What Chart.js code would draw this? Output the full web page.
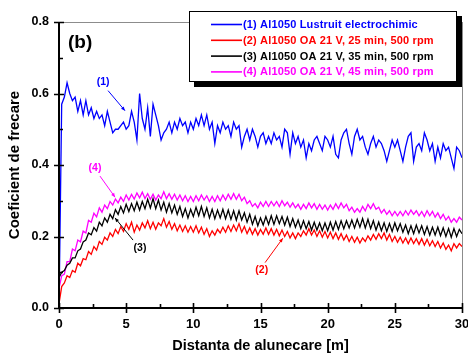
<!DOCTYPE html>
<html>
<head>
<meta charset="utf-8">
<script src="https://cdn.jsdelivr.net/npm/chart.js@4/dist/chart.umd.min.js"></script>
<style>
  html, body { margin: 0; padding: 0; background: #ffffff; }
  #wrap { width: 468px; height: 355px; }
</style>
</head>
<body>
<div id="wrap"><canvas id="c" width="468" height="355"></canvas></div>
<script>
// Sliding distance sampling interval [m]
const STEP = 0.2;

const seriesLabels = [
  '(1) Al1050 Lustruit electrochimic',
  '(2) Al1050 OA 21 V, 25 min, 500 rpm',
  '(3) Al1050 OA 21 V, 35 min, 500 rpm',
  '(4) Al1050 OA 21 V, 45 min, 500 rpm'
];
const seriesColors = ['#0000ff', '#ff0000', '#000000', '#ff00ff'];

const xTicks = [0, 5, 10, 15, 20, 25, 30];
const yTicks = [0.0, 0.2, 0.4, 0.6, 0.8];

// (1) electropolished Al1050 — one row per 2 m
const frictionPolished = [
  0.00,0.57,0.59,0.63,0.60,0.58,0.59,0.55,0.58,0.54,
  0.58,0.54,0.56,0.53,0.55,0.53,0.54,0.51,0.55,0.52,
  0.49,0.50,0.50,0.51,0.52,0.50,0.51,0.55,0.52,0.47,
  0.60,0.53,0.50,0.56,0.48,0.57,0.54,0.51,0.47,0.49,
  0.50,0.52,0.49,0.52,0.50,0.53,0.51,0.52,0.49,0.52,
  0.50,0.53,0.51,0.54,0.51,0.54,0.50,0.52,0.46,0.51,
  0.49,0.52,0.50,0.51,0.48,0.52,0.50,0.51,0.45,0.48,
  0.50,0.47,0.50,0.48,0.45,0.48,0.49,0.46,0.48,0.46,
  0.49,0.47,0.48,0.45,0.50,0.49,0.43,0.49,0.46,0.48,
  0.45,0.47,0.42,0.46,0.44,0.47,0.48,0.46,0.44,0.48,
  0.47,0.45,0.48,0.43,0.42,0.47,0.49,0.50,0.46,0.43,
  0.48,0.50,0.47,0.48,0.45,0.43,0.46,0.48,0.45,0.47,
  0.46,0.44,0.41,0.44,0.47,0.45,0.47,0.44,0.41,0.45,
  0.48,0.49,0.41,0.45,0.46,0.44,0.49,0.47,0.44,0.46,
  0.41,0.45,0.42,0.46,0.44,0.45,0.42,0.39,0.45,0.44,
  0.42
];

// (2) anodized 21 V, 25 min
const frictionOA25 = [
  0.012,0.060,0.070,0.090,0.085,0.105,0.100,0.125,0.118,0.138,
  0.135,0.158,0.150,0.172,0.162,0.186,0.178,0.198,0.190,0.210,
  0.200,0.220,0.208,0.228,0.214,0.236,0.220,0.240,0.212,0.232,
  0.218,0.238,0.224,0.244,0.222,0.240,0.220,0.238,0.230,0.250,
  0.226,0.242,0.220,0.236,0.216,0.232,0.214,0.230,0.212,0.228,
  0.212,0.230,0.210,0.226,0.206,0.222,0.200,0.216,0.204,0.220,
  0.210,0.226,0.212,0.230,0.214,0.232,0.216,0.236,0.212,0.228,
  0.208,0.224,0.206,0.222,0.204,0.220,0.206,0.224,0.206,0.222,
  0.204,0.220,0.202,0.218,0.200,0.214,0.196,0.210,0.194,0.210,
  0.200,0.216,0.204,0.222,0.204,0.218,0.200,0.216,0.198,0.214,
  0.196,0.212,0.194,0.210,0.192,0.208,0.190,0.204,0.186,0.200,
  0.184,0.198,0.182,0.196,0.186,0.202,0.190,0.206,0.192,0.208,
  0.194,0.210,0.190,0.206,0.186,0.200,0.184,0.198,0.182,0.196,
  0.180,0.196,0.180,0.194,0.178,0.194,0.176,0.192,0.174,0.188,
  0.172,0.186,0.168,0.182,0.164,0.176,0.160,0.180,0.168,0.180,
  0.172
];

// (3) anodized 21 V, 35 min
const frictionOA35 = [
  0.085,0.100,0.105,0.120,0.125,0.140,0.140,0.160,0.165,0.185,
  0.190,0.210,0.205,0.225,0.215,0.240,0.230,0.252,0.240,0.262,
  0.250,0.275,0.262,0.284,0.266,0.290,0.270,0.292,0.272,0.296,
  0.274,0.298,0.278,0.304,0.280,0.306,0.278,0.302,0.274,0.296,
  0.268,0.292,0.266,0.288,0.262,0.284,0.256,0.278,0.252,0.276,
  0.256,0.282,0.258,0.284,0.256,0.280,0.252,0.276,0.250,0.274,
  0.252,0.276,0.250,0.274,0.248,0.272,0.246,0.272,0.246,0.266,
  0.240,0.262,0.234,0.256,0.230,0.252,0.232,0.256,0.234,0.258,
  0.234,0.258,0.236,0.256,0.232,0.254,0.228,0.250,0.226,0.246,
  0.222,0.244,0.222,0.242,0.218,0.240,0.218,0.238,0.216,0.238,
  0.216,0.240,0.218,0.242,0.220,0.244,0.222,0.244,0.224,0.246,
  0.224,0.248,0.226,0.250,0.224,0.248,0.222,0.244,0.218,0.240,
  0.216,0.238,0.214,0.236,0.214,0.238,0.216,0.236,0.212,0.232,
  0.208,0.230,0.208,0.232,0.210,0.230,0.206,0.228,0.204,0.226,
  0.204,0.226,0.202,0.224,0.200,0.222,0.198,0.222,0.200,0.220,
  0.208
];

// (4) anodized 21 V, 45 min
const frictionOA45 = [
  0.055,0.090,0.095,0.130,0.130,0.165,0.160,0.190,0.185,0.215,
  0.210,0.245,0.240,0.265,0.255,0.280,0.268,0.288,0.278,0.298,
  0.288,0.305,0.294,0.310,0.298,0.316,0.302,0.318,0.305,0.322,
  0.308,0.324,0.306,0.320,0.304,0.318,0.302,0.316,0.306,0.325,
  0.306,0.320,0.304,0.318,0.302,0.316,0.300,0.314,0.298,0.312,
  0.298,0.314,0.300,0.316,0.302,0.314,0.298,0.312,0.298,0.314,
  0.300,0.316,0.302,0.318,0.304,0.320,0.304,0.318,0.300,0.310,
  0.292,0.300,0.284,0.292,0.280,0.296,0.284,0.298,0.284,0.298,
  0.286,0.298,0.284,0.300,0.286,0.296,0.282,0.294,0.280,0.290,
  0.276,0.290,0.278,0.294,0.280,0.292,0.276,0.290,0.276,0.288,
  0.274,0.288,0.276,0.292,0.278,0.294,0.280,0.290,0.272,0.282,
  0.268,0.278,0.268,0.284,0.272,0.290,0.278,0.292,0.276,0.282,
  0.266,0.276,0.262,0.272,0.258,0.270,0.258,0.270,0.258,0.272,
  0.260,0.274,0.262,0.272,0.258,0.270,0.256,0.272,0.258,0.270,
  0.254,0.266,0.250,0.262,0.246,0.256,0.240,0.250,0.240,0.254,
  0.246
];

// Callout labels with leader lines, in data units: [text, color, labelX, labelY, fromX, fromY, toX, toY]
const callouts = [
  ['(1)', '#0000ff', 3.28, 0.633, 3.65, 0.608, 4.91, 0.552],
  ['(4)', '#ff00ff', 2.68, 0.392, 3.05, 0.369, 4.17, 0.310],
  ['(3)', '#000000', 6.03, 0.168, 5.51, 0.190, 4.17, 0.252],
  ['(2)', '#ff0000', 15.09, 0.106, 15.34, 0.127, 16.66, 0.195]
];
const panelTag = ['(b)', 0.67, 0.741];

const FONT = 'Arial, "Liberation Sans", Helvetica, sans-serif';

function toPoints(values) {
  return values.map((v, i) => ({ x: Math.round(i * STEP * 10) / 10, y: v }));
}

const seriesValues = [frictionPolished, frictionOA25, frictionOA35, frictionOA45];

// Frame, crossing major ticks, inner minor ticks, callouts and boxed legend
const axesFrame = {
  id: 'axesFrame',
  afterDatasetsDraw(chart) {
    const { ctx, chartArea: a, scales: { x, y } } = chart;
    ctx.save();
    ctx.strokeStyle = '#8c8c8c';
    ctx.lineWidth = 1;
    ctx.beginPath();
    ctx.moveTo(a.left, a.top + 0.5); ctx.lineTo(a.right, a.top + 0.5);
    ctx.moveTo(a.right + 0.5, a.top); ctx.lineTo(a.right + 0.5, a.bottom);
    ctx.stroke();

    ctx.strokeStyle = '#000';
    ctx.lineWidth = 2;
    ctx.beginPath();
    ctx.moveTo(a.left, a.top); ctx.lineTo(a.left, a.bottom + 1);
    ctx.moveTo(a.left - 1, a.bottom); ctx.lineTo(a.right + 1, a.bottom);
    ctx.stroke();

    ctx.lineWidth = 1.6;
    ctx.beginPath();
    yTicks.forEach(v => {
      const p = Math.round(y.getPixelForValue(v)) + 0.5;
      ctx.moveTo(a.left - 5, p); ctx.lineTo(a.left + 5, p);
    });
    for (let i = 0; i < yTicks.length - 1; i++) {
      const p = Math.round(y.getPixelForValue((yTicks[i] + yTicks[i + 1]) / 2)) + 0.5;
      ctx.moveTo(a.left, p); ctx.lineTo(a.left + 4, p);
    }
    xTicks.forEach(v => {
      const p = Math.round(x.getPixelForValue(v)) + 0.5;
      ctx.moveTo(p, a.bottom + 5); ctx.lineTo(p, a.bottom - 5);
    });
    for (let i = 0; i < xTicks.length - 1; i++) {
      const p = Math.round(x.getPixelForValue((xTicks[i] + xTicks[i + 1]) / 2)) + 0.5;
      ctx.moveTo(p, a.bottom); ctx.lineTo(p, a.bottom - 4);
    }
    ctx.stroke();
    ctx.restore();
  },
  afterDraw(chart) {
    const { ctx, scales: { x, y } } = chart;
    ctx.save();

    // panel tag
    ctx.fillStyle = '#000';
    ctx.font = 'bold 19px ' + FONT;
    ctx.textBaseline = 'middle';
    ctx.textAlign = 'left';
    ctx.fillText(panelTag[0], x.getPixelForValue(panelTag[1]), y.getPixelForValue(panelTag[2]));

    // callouts
    ctx.font = 'bold 10.5px ' + FONT;
    ctx.textAlign = 'center';
    callouts.forEach(([t, c, lx, ly, fx, fy, tx, ty]) => {
      ctx.fillStyle = c;
      ctx.strokeStyle = c;
      ctx.lineWidth = 1;
      ctx.fillText(t, x.getPixelForValue(lx), y.getPixelForValue(ly));
      const x0 = x.getPixelForValue(fx), y0 = y.getPixelForValue(fy);
      const x1 = x.getPixelForValue(tx), y1 = y.getPixelForValue(ty);
      ctx.beginPath(); ctx.moveTo(x0, y0); ctx.lineTo(x1, y1); ctx.stroke();
      const ang = Math.atan2(y1 - y0, x1 - x0), L = 4, W = 1.8;
      ctx.beginPath();
      ctx.moveTo(x1, y1);
      ctx.lineTo(x1 - L * Math.cos(ang) + W * Math.sin(ang), y1 - L * Math.sin(ang) - W * Math.cos(ang));
      ctx.lineTo(x1 - L * Math.cos(ang) - W * Math.sin(ang), y1 - L * Math.sin(ang) + W * Math.cos(ang));
      ctx.closePath(); ctx.fill();
    });

    // legend box with drop shadow
    const bx = 189, by = 11, bw = 268, bh = 71;
    ctx.fillStyle = '#000';
    ctx.fillRect(bx + 5, by + 5, bw, bh);
    ctx.fillStyle = '#fff';
    ctx.fillRect(bx, by, bw, bh);
    ctx.strokeStyle = '#000';
    ctx.lineWidth = 1;
    ctx.strokeRect(bx + 0.5, by + 0.5, bw - 1, bh - 1);

    ctx.font = 'bold 11px ' + FONT;
    ctx.letterSpacing = '0.15px';
    ctx.textAlign = 'left';
    ctx.textBaseline = 'middle';
    chart.data.datasets.forEach((ds, i) => {
      const ry = by + 13.5 + i * 15.8;
      ctx.strokeStyle = ds.borderColor;
      ctx.lineWidth = 1.6;
      ctx.beginPath(); ctx.moveTo(211, ry); ctx.lineTo(242, ry); ctx.stroke();
      ctx.fillStyle = ds.borderColor;
      ctx.fillText(ds.label, 243, ry + 0.5);
    });
    ctx.restore();
  }
};

Chart.defaults.color = '#000';
Chart.defaults.font.family = FONT;

new Chart(document.getElementById('c'), {
  type: 'line',
  data: {
    datasets: seriesValues.map((vals, i) => ({
      label: seriesLabels[i],
      data: toPoints(vals),
      borderColor: seriesColors[i],
      backgroundColor: seriesColors[i],
      borderWidth: 1.3,
      pointRadius: 0,
      tension: 0,
      fill: false
    }))
  },
  options: {
    responsive: false,
    devicePixelRatio: 1,
    animation: false,
    layout: { padding: { left: 0, top: 22, right: 6, bottom: 0 } },
    plugins: { legend: { display: false }, tooltip: { enabled: false } },
    scales: {
      x: {
        type: 'linear',
        min: 0, max: 30,
        grid: { display: false, drawTicks: false },
        border: { display: false },
        afterBuildTicks: s => { s.ticks = xTicks.map(v => ({ value: v })); },
        afterFit: s => { s.height = 47; s.paddingLeft = 0; s.paddingRight = 0; },
        ticks: {
          font: { size: 13, weight: 'bold' },
          padding: 9,
          maxRotation: 0,
          callback: v => String(v)
        },
        title: {
          display: true,
          text: 'Distanta de alunecare [m]',
          font: { size: 14.5, weight: 'bold' },
          padding: { top: 0, bottom: 0 }
        }
      },
      y: {
        type: 'linear',
        min: 0, max: 0.8,
        grid: { display: false, drawTicks: false },
        border: { display: false },
        afterBuildTicks: s => { s.ticks = yTicks.map(v => ({ value: v })); },
        afterFit: s => { s.width = 59; s.paddingTop = 0; s.paddingBottom = 0; },
        ticks: {
          font: { size: 12.5, weight: 'bold' },
          padding: 10,
          callback: v => Number(v).toFixed(1)
        },
        title: {
          display: true,
          text: 'Coeficient de frecare',
          font: { size: 15, weight: 'bold' },
          padding: { top: 6, bottom: 0 }
        }
      }
    }
  },
  plugins: [axesFrame]
});
</script>
</body>
</html>
